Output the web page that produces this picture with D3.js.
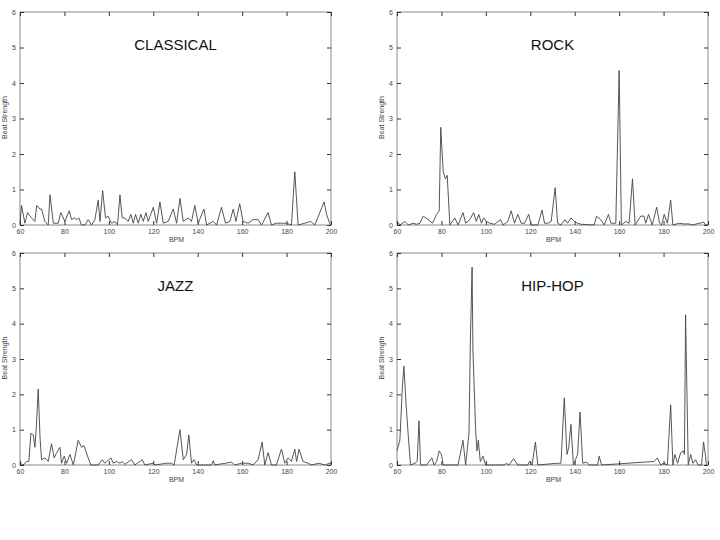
<!DOCTYPE html>
<html>
<head>
<meta charset="utf-8">
<script src="https://cdn.jsdelivr.net/npm/d3@7"></script>
<style>
  body { margin: 0; background: #fff; }
  svg { display: block; }
  .tick text { font-family: "Liberation Sans", Arial, sans-serif; font-size: 7px; fill: #444; }
</style>
</head>
<body>
<svg></svg>
<script>
// tick labels used by every panel
var xTicks = [60, 80, 100, 120, 140, 160, 180, 200];
var yTicks = [0, 1, 2, 3, 4, 5, 6];

// CLASSICAL
var classicalBpm = [60, 60.7, 62.2, 63.4, 65.2, 66.7, 67.5, 69, 69.7, 71.2, 72.7, 73.5, 75, 77.2, 78.4, 80.2, 82.2, 83.2, 84.4, 85.5, 86.5, 87.7, 89.2, 90.7, 92.2, 93.7, 95.2, 96, 97.2, 98.5, 99.7, 101.2, 102.7, 103.9, 105, 106, 107.2, 108.7, 109.9, 111, 112, 113.2, 114.4, 115.5, 116.7, 117.7, 120, 121.5, 123, 124.5, 126.7, 129, 130.5, 132, 133.5, 135.7, 137.2, 138.7, 140.2, 142.8, 144, 147, 148.5, 150.7, 152.5, 154.5, 156, 157.2, 158.9, 160.4, 162.7, 164.9, 167.2, 168.7, 171.7, 173.2, 175.4, 177.7, 179.9, 182.2, 183.7, 185.2, 188.2, 190.9, 192.7, 196.9, 198, 199.4, 200];
var classicalStrength = [0.05, 0.55, 0.05, 0.35, 0.2, 0.1, 0.55, 0.45, 0.45, 0.1, 0, 0.85, 0.05, 0.05, 0.35, 0.1, 0.4, 0.15, 0.2, 0.15, 0.2, 0, 0, 0.15, 0, 0.15, 0.7, 0.1, 0.97, 0.2, 0.25, 0.05, 0.1, 0, 0.85, 0.2, 0.2, 0.1, 0.3, 0.05, 0.3, 0.05, 0.3, 0.1, 0.35, 0.1, 0.5, 0.05, 0.65, 0.05, 0.1, 0.45, 0.05, 0.75, 0.1, 0.2, 0.1, 0.55, 0.05, 0.45, 0, 0.1, 0, 0.5, 0.05, 0.1, 0.45, 0.1, 0.6, 0.1, 0.05, 0.15, 0.15, 0, 0.35, 0, 0.05, 0.05, 0.05, 0, 1.5, 0, 0.05, 0.1, 0, 0.65, 0.3, 0.05, 0];

// ROCK
var rockBpm = [60, 61.3, 63.6, 65.1, 67.3, 68.8, 70.3, 71.8, 74.1, 76, 77.8, 79, 79.7, 80.8, 81.8, 82.6, 83.8, 86, 87.5, 89.7, 90.9, 92.7, 94.5, 95.7, 96.8, 98, 99, 100.2, 101.7, 103.9, 106.6, 107.7, 109.9, 111.4, 112.9, 114.4, 115.9, 117.4, 119.3, 120.4, 123.4, 125.3, 126.4, 127.9, 129.4, 131.2, 132.3, 133.8, 135.6, 136.8, 138.3, 139.8, 141.3, 142.8, 148.8, 149.8, 151.7, 153.3, 155.2, 156.3, 158.5, 160, 161, 163, 164.5, 166, 167.2, 169.7, 171.2, 172, 173.2, 174.9, 176.9, 178.2, 179.1, 180.3, 181.7, 183.2, 184.2, 186.9, 189.1, 191.4, 192.9, 198.1, 198.9, 200];
var rockStrength = [0.1, 0, 0.1, 0, 0.05, 0.02, 0.05, 0.25, 0.15, 0.05, 0.3, 0.4, 2.75, 1.5, 1.3, 1.4, 0, 0.2, 0, 0.35, 0.05, 0.15, 0.35, 0.1, 0.3, 0.05, 0.2, 0.1, 0.05, 0.02, 0.15, 0, 0.1, 0.4, 0.05, 0.3, 0.05, 0.05, 0.3, 0, 0, 0.42, 0.05, 0.05, 0.1, 1.05, 0.05, 0, 0.15, 0.05, 0.2, 0.1, 0.05, 0.02, 0, 0.25, 0.15, 0, 0.3, 0.05, 0.05, 4.35, 0, 0.1, 0.05, 1.3, 0, 0.25, 0.25, 0.05, 0.3, 0, 0.5, 0.05, 0, 0.3, 0.05, 0.7, 0, 0.05, 0.03, 0.03, 0, 0.08, 0, 0];

// JAZZ
var jazzBpm = [60, 61.5, 63, 64, 64.9, 66, 66.7, 67.3, 68.2, 69, 69.7, 71.2, 72.7, 74.2, 75.4, 76.5, 78, 78.7, 79.9, 81, 82.5, 84, 86.2, 87.7, 88.8, 90.7, 91.9, 95.2, 97, 98.2, 100.9, 102, 103.5, 105, 106, 107.2, 110.2, 111.7, 115, 116.2, 120, 120.7, 126, 128.2, 129.4, 132, 133.5, 135, 136, 137.2, 138.3, 139.5, 146.2, 147, 147.7, 155.2, 156.7, 159.7, 162.7, 164.9, 167.2, 169, 170.2, 171.7, 173.2, 175.4, 177.7, 179.2, 180.7, 182.2, 183.7, 184.5, 185.6, 187.4, 189.7, 191.2, 194.5, 197.2, 199.4, 200];
var jazzStrength = [0.05, 0, 0.1, 0.1, 0.9, 0.85, 0.5, 1, 2.15, 0.8, 0.15, 0.2, 0.1, 0.6, 0.2, 0.35, 0.5, 0.05, 0.25, 0.05, 0.3, 0, 0.7, 0.5, 0.55, 0.2, 0, 0, 0.15, 0.05, 0.2, 0.05, 0.1, 0.05, 0.1, 0.02, 0.15, 0, 0.15, 0, 0.05, 0, 0.05, 0.05, 0, 1, 0.15, 0.3, 0.85, 0.05, 0.15, 0, 0, 0.12, 0, 0.08, 0, 0.05, 0.05, 0, 0.15, 0.65, 0, 0.35, 0, 0, 0.45, 0.05, 0.2, 0.1, 0.45, 0.1, 0.45, 0.1, 0.05, 0, 0.05, 0, 0.05, 0.05];

// HIP-HOP
var hiphopBpm = [60, 61.3, 62.4, 63.1, 64, 65.1, 66.1, 68.1, 69.1, 69.9, 70.6, 73.3, 75.7, 76.7, 77.8, 79, 80, 80.8, 87.5, 89.7, 90.9, 92.4, 93, 93.8, 94.2, 95.4, 96, 96.6, 97.5, 98.7, 99.9, 108.4, 109.2, 110.4, 112.5, 114.4, 118.9, 119.6, 120.8, 122.3, 123.4, 132.3, 133.8, 135.3, 136.5, 137.3, 138.3, 139.4, 141.3, 142.4, 143.6, 145.4, 146.5, 150.3, 151, 152.1, 175.7, 177.2, 178.7, 180.2, 181.7, 183.2, 184.2, 185.1, 186.3, 187.7, 188.9, 189.4, 189.9, 191.1, 192.2, 193.2, 194.4, 195.6, 197.1, 198, 198.9, 199.2];
var hiphopStrength = [0.4, 0.7, 2.2, 2.8, 1.8, 0.8, 0, 0.05, 0.1, 1.25, 0, 0, 0.2, 0, 0.1, 0.4, 0.3, 0, 0, 0.7, 0, 0.9, 3.4, 5.6, 3.2, 1, 0.4, 0.7, 0.1, 0.25, 0, 0, 0.05, 0, 0.18, 0, 0, 0.1, 0, 0.65, 0, 0.05, 0.05, 1.9, 0.3, 0.5, 1.15, 0, 0.3, 1.5, 0.05, 0.08, 0, 0, 0.25, 0, 0.1, 0.2, 0, 0.05, 0, 1.7, 0, 0.3, 0.05, 0.35, 0.4, 0.3, 4.25, 0, 0.3, 0.05, 0.15, 0, 0, 0.65, 0.25, 0];

var width = 720;
var height = 540;

var svg = d3.select("svg")
    .attr("width", width)
    .attr("height", height);

// panel boxes: left, right, top, bottom (pixels)
var panels = [
    { title: "CLASSICAL", bpm: classicalBpm, val: classicalStrength, x0: 20,  x1: 331, y0: 12,  y1: 225 },
    { title: "ROCK",      bpm: rockBpm,      val: rockStrength,      x0: 397, x1: 708, y0: 12,  y1: 225 },
    { title: "JAZZ",      bpm: jazzBpm,      val: jazzStrength,      x0: 20,  x1: 331, y0: 253, y1: 465 },
    { title: "HIP-HOP",   bpm: hiphopBpm,    val: hiphopStrength,    x0: 397, x1: 708, y0: 253, y1: 465 }
];

panels.forEach(function(p) {
    var x = d3.scaleLinear().domain([60, 200]).range([p.x0, p.x1]);
    var y = d3.scaleLinear().domain([0, 6]).range([p.y1, p.y0]);
    var g = svg.append("g");

    // frame
    g.append("rect")
        .attr("x", p.x0).attr("y", p.y0)
        .attr("width", p.x1 - p.x0).attr("height", p.y1 - p.y0)
        .attr("fill", "none").attr("stroke", "#8a8a8a").attr("stroke-width", 1);

    // axes with inward ticks
    var bottom = g.append("g").attr("transform", "translate(0," + p.y1 + ")")
        .call(d3.axisBottom(x).tickValues(xTicks).tickSizeInner(-4).tickSizeOuter(0).tickPadding(4));
    var top = g.append("g").attr("transform", "translate(0," + p.y0 + ")")
        .call(d3.axisTop(x).tickValues(xTicks).tickSizeInner(-4).tickSizeOuter(0).tickFormat(""));
    var left = g.append("g").attr("transform", "translate(" + p.x0 + ",0)")
        .call(d3.axisLeft(y).tickValues(yTicks).tickFormat(d3.format("d")).tickSizeInner(-4).tickSizeOuter(0).tickPadding(4));
    var right = g.append("g").attr("transform", "translate(" + p.x1 + ",0)")
        .call(d3.axisRight(y).tickValues(yTicks).tickSizeInner(-4).tickSizeOuter(0).tickFormat(""));

    [bottom, top, left, right].forEach(function(a) {
        a.select(".domain").remove();
        a.selectAll(".tick line").attr("stroke", "#333");
    });

    // data line
    var pts = p.bpm.map(function(b, i) { return [b, p.val[i]]; });
    var line = d3.line()
        .x(function(d) { return x(d[0]); })
        .y(function(d) { return y(d[1]); });
    g.append("path")
        .datum(pts)
        .attr("d", line)
        .attr("fill", "none")
        .attr("stroke", "#444")
        .attr("stroke-width", 0.9)
        .attr("stroke-linejoin", "round");

    // title
    g.append("text")
        .attr("x", (p.x0 + p.x1) / 2)
        .attr("y", p.y0 + 38)
        .attr("text-anchor", "middle")
        .style("font-family", "Liberation Sans, Arial, sans-serif")
        .style("font-size", "15px")
        .style("fill", "#111")
        .text(p.title);

    // axis titles
    g.append("text")
        .attr("x", (p.x0 + p.x1) / 2 + 1)
        .attr("y", p.y1 + 17)
        .attr("text-anchor", "middle")
        .style("font-family", "Liberation Sans, Arial, sans-serif")
        .style("font-size", "7px")
        .style("fill", "#444")
        .text("BPM");

    g.append("text")
        .attr("transform", "translate(" + (p.x0 - 13) + "," + ((p.y0 + p.y1) / 2 - 1) + ") rotate(-90)")
        .attr("text-anchor", "middle")
        .style("font-family", "Liberation Sans, Arial, sans-serif")
        .style("font-size", "7px")
        .style("fill", "#444")
        .text("Beat Strength");
});
</script>
</body>
</html>
